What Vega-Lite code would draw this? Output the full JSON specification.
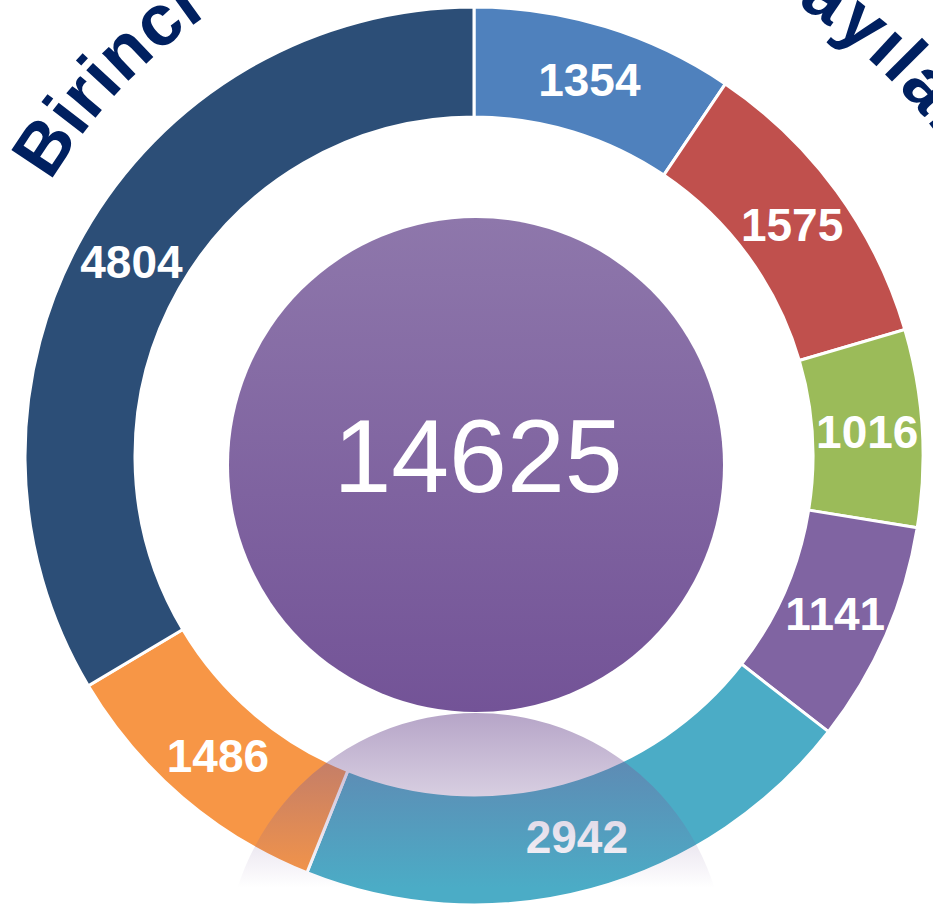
{
  "$schema": "https://vega.github.io/schema/vega-lite/v6.json",
  "width": 918,
  "height": 904,
  "autosize": {"type": "none"},
  "padding": {"left": 15, "top": 4, "right": 0, "bottom": 0},
  "background": "white",
  "config": {"view": {"stroke": null}},
  "datasets": {
    "seg": [
      {"cat": "S1", "value": 1354, "o": 1},
      {"cat": "S2", "value": 1575, "o": 2},
      {"cat": "S3", "value": 1016, "o": 3},
      {"cat": "S4", "value": 1141, "o": 4},
      {"cat": "S5", "value": 2942, "o": 5},
      {"cat": "S6", "value": 1486, "o": 6},
      {"cat": "S7", "value": 4804, "o": 7}
    ],
    "total": [{"total": 14625}],
    "title": [
      {"ch": "B", "pos": 0.361}, {"ch": "i", "pos": 0.861}, {"ch": "r", "pos": 1.195}, {"ch": "i", "pos": 1.528},
      {"ch": "n", "pos": 1.973}, {"ch": "c", "pos": 2.556}, {"ch": "i", "pos": 2.973}, {"ch": " ", "pos": 3.251},
      {"ch": "B", "pos": 3.751}, {"ch": "a", "pos": 4.39}, {"ch": "s", "pos": 4.946}, {"ch": "a", "pos": 5.502},
      {"ch": "m", "pos": 6.225}, {"ch": "a", "pos": 6.947}, {"ch": "k", "pos": 7.503}, {"ch": " ", "pos": 7.92},
      {"ch": "M", "pos": 8.476}, {"ch": "u", "pos": 9.198}, {"ch": "a", "pos": 9.781}, {"ch": "y", "pos": 10.337},
      {"ch": "e", "pos": 10.893}, {"ch": "n", "pos": 11.477}, {"ch": "e", "pos": 12.06}, {"ch": " ", "pos": 12.477},
      {"ch": "S", "pos": 12.95}, {"ch": "a", "pos": 13.561}, {"ch": "y", "pos": 14.117}, {"ch": "ı", "pos": 14.534},
      {"ch": "l", "pos": 14.812}, {"ch": "a", "pos": 15.229}, {"ch": "r", "pos": 15.702}, {"ch": "ı", "pos": 16.035}
    ]
  },
  "layer": [
    {
      "data": {"name": "seg"},
      "mark": {"type": "arc", "outerRadius": 449, "innerRadius": 339, "stroke": "white", "strokeWidth": 3},
      "encoding": {
        "theta": {"field": "value", "type": "quantitative", "stack": true},
        "order": {"field": "o", "type": "quantitative"},
        "color": {
          "field": "cat", "type": "nominal", "legend": null,
          "scale": {
            "domain": ["S1", "S2", "S3", "S4", "S5", "S6", "S7"],
            "range": ["#4F81BD", "#C0504D", "#9BBB59", "#8064A2", "#4BACC6", "#F79646", "#2C4E77"]
          }
        }
      }
    },
    {
      "data": {"name": "seg"},
      "mark": {"type": "text", "radius": 394, "dy": 3, "font": "Liberation Sans", "fontWeight": "bold", "fontSize": 46, "fill": "white", "align": "center", "baseline": "middle"},
      "encoding": {
        "theta": {"field": "value", "type": "quantitative", "stack": true},
        "order": {"field": "o", "type": "quantitative"},
        "text": {"field": "value", "type": "quantitative", "format": "d"}
      }
    },
    {
      "data": {"name": "total"},
      "mark": {
        "type": "arc", "radius": 247, "theta": 0, "theta2": 6.2832, "xOffset": 2, "yOffset": 9,
        "fill": {"gradient": "linear", "x1": 0, "y1": 0, "x2": 0, "y2": 1,
          "stops": [{"offset": 0, "color": "#8E77AB"}, {"offset": 1, "color": "#735397"}]}
      },
      "encoding": {}
    },
    {
      "data": {"name": "total"},
      "mark": {"type": "text", "font": "Liberation Sans", "fontSize": 104, "fill": "white", "align": "center", "baseline": "middle", "xOffset": 4, "dy": 5},
      "encoding": {"text": {"field": "total", "type": "quantitative", "format": "d"}}
    },
    {
      "data": {"name": "total"},
      "mark": {
        "type": "arc", "radius": 250, "theta": -1.5708, "theta2": 1.5708, "xOffset": 2, "yOffset": 507,
        "fill": {"gradient": "linear", "x1": 0, "y1": 0, "x2": 0, "y2": 1,
          "stops": [
            {"offset": 0, "color": "rgba(122,91,154,0.55)"},
            {"offset": 0.3, "color": "rgba(122,91,154,0.32)"},
            {"offset": 0.55, "color": "rgba(122,91,154,0.12)"},
            {"offset": 0.7, "color": "rgba(122,91,154,0)"}
          ]}
      },
      "encoding": {}
    },
    {
      "data": {"name": "title"},
      "mark": {"type": "text", "font": "Liberation Sans", "fontWeight": "bold", "fontSize": 72, "fill": "#002060", "align": "center", "baseline": "alphabetic", "radius": 535, "xOffset": 36},
      "encoding": {
        "theta": {"field": "pos", "type": "quantitative", "scale": {"domain": [0, 3.251, 3.751, 12.95, 16.174], "range": [-1.0341, -0.5859, -0.4887, 0.5131, 0.9861]}},
        "angle": {"field": "pos", "type": "quantitative", "scale": {"domain": [0, 3.251, 3.751, 12.95, 16.174], "range": [-59.25, -33.57, -28, 29.4, 56.5]}},
        "text": {"field": "ch", "type": "nominal"}
      }
    }
  ],
  "resolve": {"scale": {"theta": "independent"}}
}
